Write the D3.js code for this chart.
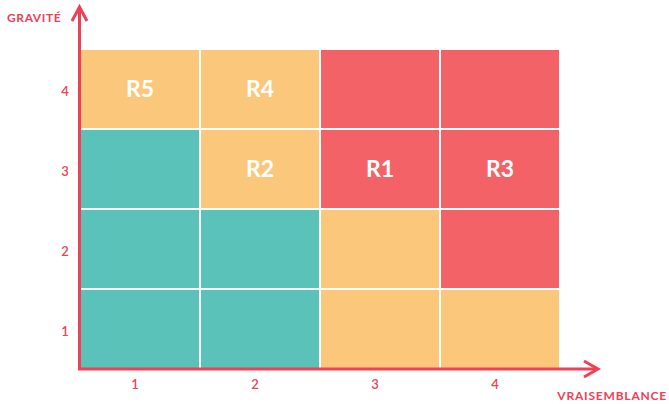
<!DOCTYPE html>
<html>
<head>
<meta charset="utf-8">
<script src="https://cdn.jsdelivr.net/npm/d3@7"></script>
<style>
  body { margin: 0; background: #fff; }
  text { font-family: Lato, "Open Sans", sans-serif; }
</style>
</head>
<body>
<div id="chart"></div>
<script>
(function () {
    let w = 669
    let h = 404

    // data
    let likelihood = [1, 2, 3, 4]
    let severity = [4, 3, 2, 1]
    // risk level per cell, row by row from severity 4 down to 1
    let levels = [
        ["medium", "medium", "high", "high"],
        ["low", "medium", "high", "high"],
        ["low", "low", "medium", "high"],
        ["low", "low", "medium", "medium"]
    ]
    let risks = [
        { name: "R5", x: 1, y: 4 },
        { name: "R4", x: 2, y: 4 },
        { name: "R2", x: 2, y: 3 },
        { name: "R1", x: 3, y: 3 },
        { name: "R3", x: 4, y: 3 }
    ]
    let xTitle = "VRAISEMBLANCE"
    let yTitle = "GRAVITÉ"

    let colors = { low: "#5bc2b9", medium: "#fbc77b", high: "#f26267" }
    let axisColor = "#ee4056"

    let svg = d3.select("#chart")
        .append("svg")
        .attr("width", w)
        .attr("height", h)

    let x = d3.scaleBand()
        .domain(likelihood)
        .range([80, 560])

    let y = d3.scaleBand()
        .domain(severity)
        .range([49, 369])

    let cells = []
    severity.forEach((s, i) => {
        likelihood.forEach((l, j) => {
            cells.push({ x: l, y: s, level: levels[i][j] })
        })
    })

    // cells
    svg.append("g")
        .selectAll("rect")
        .data(cells)
        .join("rect")
        .attr("x", d => x(d.x))
        .attr("y", d => y(d.y))
        .attr("width", x.bandwidth())
        .attr("height", y.bandwidth())
        .attr("fill", d => colors[d.level])
        .attr("stroke", "#fff")
        .attr("stroke-width", 2)

    // risk labels
    svg.append("g")
        .selectAll("text")
        .data(risks)
        .join("text")
        .attr("x", d => x(d.x) + x.bandwidth() / 2)
        .attr("y", d => y(d.y) + y.bandwidth() / 2)
        .attr("dy", "0.36em")
        .attr("text-anchor", "middle")
        .attr("fill", "#fff")
        .style("font-size", "23px")
        .style("font-weight", "bold")
        .text(d => d.name)

    // tick labels
    svg.append("g")
        .selectAll("text")
        .data(likelihood)
        .join("text")
        .attr("x", d => x(d) + x.bandwidth() / 2 - 5)
        .attr("y", 389)
        .attr("text-anchor", "middle")
        .attr("fill", axisColor)
        .style("font-size", "13px")
        .style("font-weight", "600")
        .text(d => d)

    svg.append("g")
        .selectAll("text")
        .data(severity)
        .join("text")
        .attr("x", 65)
        .attr("y", d => y(d) + y.bandwidth() / 2 + 2)
        .attr("dy", "0.35em")
        .attr("text-anchor", "middle")
        .attr("fill", axisColor)
        .style("font-size", "13px")
        .style("font-weight", "600")
        .text(d => d)

    // axes with arrows
    let axes = svg.append("g")
        .attr("stroke", axisColor)
        .attr("stroke-width", 3)
        .attr("fill", "none")

    axes.append("line")
        .attr("x1", 79.5).attr("y1", 370)
        .attr("x2", 79.5).attr("y2", 7)
    axes.append("path")
        .attr("d", "M72,21 L79.5,7 L87,21")

    axes.append("line")
        .attr("x1", 78).attr("y1", 369)
        .attr("x2", 597).attr("y2", 369)
    axes.append("path")
        .attr("d", "M584,361 L598,369 L584,377")

    // axis titles
    svg.append("text")
        .attr("x", 7)
        .attr("y", 22)
        .attr("fill", axisColor)
        .style("font-size", "12px")
        .style("font-weight", "bold")
        .style("letter-spacing", "0.6px")
        .text(yTitle)

    svg.append("text")
        .attr("x", 667)
        .attr("y", 400)
        .attr("text-anchor", "end")
        .attr("fill", axisColor)
        .style("font-size", "12px")
        .style("font-weight", "bold")
        .style("letter-spacing", "0.8px")
        .text(xTitle)
})()
</script>
</body>
</html>
